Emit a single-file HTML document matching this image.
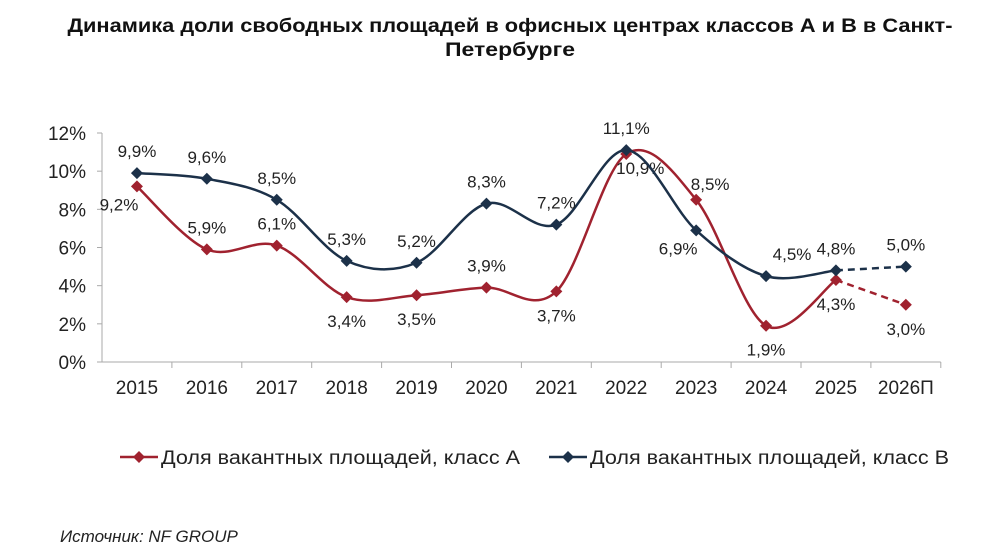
<!DOCTYPE html>
<html><head><meta charset="utf-8"><style>
html,body{margin:0;padding:0;background:#fff;}
svg{display:block;font-family:"Liberation Sans",sans-serif;}
</style></head><body>
<svg id="chart" width="986" height="552" viewBox="0 0 986 552">
<text x="510" y="32" text-anchor="middle" font-size="19" font-weight="bold" fill="#111" textLength="885" lengthAdjust="spacingAndGlyphs">Динамика доли свободных площадей в офисных центрах классов А и В в Санкт-</text>
<text x="510" y="56" text-anchor="middle" font-size="19" font-weight="bold" fill="#111" textLength="130" lengthAdjust="spacingAndGlyphs">Петербурге</text>
<g id="axes"></g>
<g id="series"></g>
<g id="legend">
<line x1="120" y1="457" x2="158" y2="457" stroke="#a0222f" stroke-width="2.5"/>
<path d="M139 451 L145 457 L139 463 L133 457Z" fill="#a0222f"/>
<text x="161" y="464" font-size="19" fill="#222" textLength="359" lengthAdjust="spacingAndGlyphs">Доля вакантных площадей, класс А</text>
<line x1="549" y1="457" x2="587" y2="457" stroke="#1c3149" stroke-width="2.5"/>
<path d="M568 451 L574 457 L568 463 L562 457Z" fill="#1c3149"/>
<text x="590" y="464" font-size="19" fill="#222" textLength="359" lengthAdjust="spacingAndGlyphs">Доля вакантных площадей, класс В</text>
</g>
<text x="60" y="542" font-size="17" font-style="italic" fill="#222">Источник: NF GROUP</text>
</svg>
<script>
const categories=["2015","2016","2017","2018","2019","2020","2021","2022","2023","2024","2025","2026П"];
const classA=[9.2,5.9,6.1,3.4,3.5,3.9,3.7,10.9,8.5,1.9,4.3,3.0];
const classB=[9.9,9.6,8.5,5.3,5.2,8.3,7.2,11.1,6.9,4.5,4.8,5.0];
const yTicks=[0,2,4,6,8,10,12];
// label placement: 1 = above, -1 = below, 2 = right, -2 = left-below
const posA=[-2,1,1,-1,-1,1,-1,3,3,-1,-1,-1];
const posB=[1,1,1,1,1,1,1,1,-2,2,1,1];
const NS="http://www.w3.org/2000/svg";
const x0=102,step=69.9,y0=362,yTop=133,maxV=12;
const xs=i=>x0+step*(i+0.5);
const ys=v=>y0-(v/maxV)*(y0-yTop);
const fmt=v=>v.toFixed(1).replace('.',',')+'%';
function mk(tag,attrs,parent){const e=document.createElementNS(NS,tag);for(const k in attrs)e.setAttribute(k,attrs[k]);parent.appendChild(e);return e;}
const axes=document.getElementById('axes');
mk('line',{x1:x0,y1:yTop,x2:x0,y2:y0,stroke:'#aaa','stroke-width':1},axes);
mk('line',{x1:x0,y1:y0,x2:x0+step*categories.length,y2:y0,stroke:'#aaa','stroke-width':1},axes);
yTicks.forEach(t=>{
  const y=ys(t);
  mk('line',{x1:x0-5,y1:y,x2:x0,y2:y,stroke:'#aaa'},axes);
  const tx=mk('text',{x:x0-16,y:y+7,'text-anchor':'end','font-size':19,fill:'#222'},axes);
  tx.textContent=t+'%';
  
  
});
categories.forEach((c,i)=>{
  const xb=x0+step*(i+1);
  mk('line',{x1:xb,y1:y0,x2:xb,y2:y0+6,stroke:'#aaa'},axes);
  const tx=mk('text',{x:xs(i),y:y0+32,'text-anchor':'middle','font-size':19,fill:'#222'},axes);
  tx.textContent=c;
  
  
});
function smooth(pts){
  let d='';
  for(let i=0;i<pts.length-1;i++){
    const p0=pts[Math.max(i-1,0)],p1=pts[i],p2=pts[i+1],p3=pts[Math.min(i+2,pts.length-1)];
    const t=1/6;
    const c1=[p1[0]+(p2[0]-p0[0])*t,p1[1]+(p2[1]-p0[1])*t];
    const c2=[p2[0]-(p3[0]-p1[0])*t,p2[1]-(p3[1]-p1[1])*t];
    d+=(i===0?'M'+p1[0]+' '+p1[1]:'')+' C'+c1[0]+' '+c1[1]+' '+c2[0]+' '+c2[1]+' '+p2[0]+' '+p2[1];
  }
  return d;
}
const series=document.getElementById('series');
function draw(vals,pos,color,name){
  const g=mk('g',{},series);
  
  
  const pts=vals.map((v,i)=>[xs(i),ys(v)]);
  const n=pts.length;
  const solid=mk('path',{d:smooth(pts.slice(0,n-1)),fill:'none',stroke:color,'stroke-width':2.5},g);
  
  
  const dash=mk('path',{d:smooth(pts.slice(n-2)),fill:'none',stroke:color,'stroke-width':2.5,'stroke-dasharray':'7 5'},g);
  
  
  pts.forEach((p,i)=>{
    const m=mk('path',{d:`M${p[0]} ${p[1]-6} L${p[0]+6} ${p[1]} L${p[0]} ${p[1]+6} L${p[0]-6} ${p[1]}Z`,fill:color},g);
    
    
    let lx=p[0],ly;
    const s=pos[i];
    if(s===1)ly=p[1]-16;
    else if(s===-1)ly=p[1]+30;
    else if(s===2){lx=p[0]+26;ly=p[1]-16;}
    else if(s===-2){lx=p[0]-18;ly=p[1]+24;}
    else {lx=p[0]+14;ly=p[1]+s*0;ly=(vals[i]>10)?p[1]+20:p[1]-10;}
    const t=mk('text',{x:lx,y:ly,'text-anchor':'middle','font-size':17,fill:'#222'},g);
    t.textContent=fmt(vals[i]);
    
    
  });
}
draw(classA,posA,'#a0222f','series-class-a');
draw(classB,posB,'#1c3149','series-class-b');
</script>
</body></html>
